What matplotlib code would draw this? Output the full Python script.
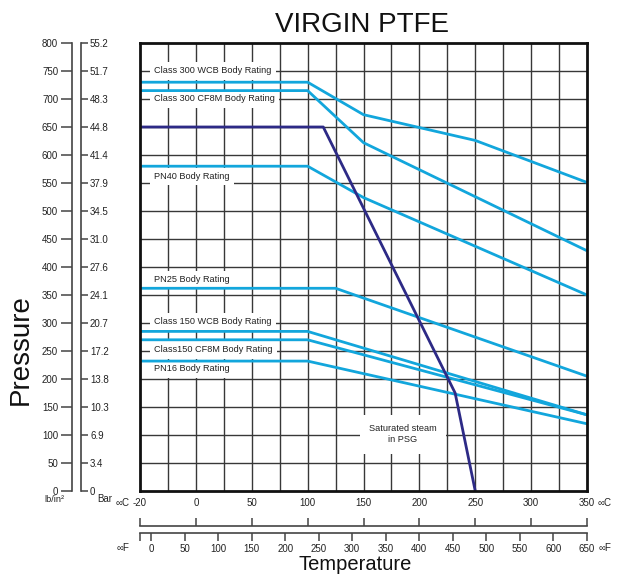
import numpy as np
import matplotlib
matplotlib.use("Agg")
import matplotlib.pyplot as plt

plt.rcParams['font.family'] = ['Liberation Sans', 'DejaVu Sans']

# ---------------- data (°C, psi) ----------------
class300_wcb_t = [-20, 100, 150, 250, 350]
class300_wcb_p = [730, 730, 672, 626, 551]
class300_cf8m_t = [-20, 100, 150, 350]
class300_cf8m_p = [715, 715, 622, 429]
pn40_t = [-20, 100, 150, 350]
pn40_p = [580, 580, 524, 350]
pn25_t = [-20, 125, 350]
pn25_p = [362, 362, 205]
class150_wcb_t = [-20, 100, 350]
class150_wcb_p = [285, 285, 136]
class150_cf8m_t = [-20, 100, 350]
class150_cf8m_p = [270, 270, 136]
pn16_t = [-20, 100, 350]
pn16_p = [232, 232, 120]
ptfe_t = [-20, 114, 232, 250]
ptfe_p = [650, 650, 175, 0]

psi_ticks = list(range(0, 801, 50))
bar_labels = ['0', '3.4', '6.9', '10.3', '13.8', '17.2', '20.7', '24.1', '27.6',
              '31.0', '34.5', '37.9', '41.4', '44.8', '48.3', '51.7', '55.2']
degc_ticks = [-20, 0, 50, 100, 150, 200, 250, 300, 350]
degf_ticks = [0, 50, 100, 150, 200, 250, 300, 350, 400, 450, 500, 550, 600, 650]
grid_t = [-10, 0, 25, 50, 75, 100, 125, 150, 175, 200, 225, 250, 275, 300, 325]
grid_p = list(range(50, 800, 50))

labels = [
    ("Class 300 WCB Body Rating", 750),
    ("Class 300 CF8M Body Rating", 700),
    ("PN40 Body Rating", 561),
    ("PN25 Body Rating", 378),
    ("Class 150 WCB Body Rating", 302),
    ("Class150 CF8M Body Rating", 252),
    ("PN16 Body Rating", 218),
]

W, H = 621, 574
fig = plt.figure(figsize=(W / 100, H / 100), dpi=100)


def box(x0, y0, x1, y1):
    return [x0 / W, 1 - y1 / H, (x1 - x0) / W, (y1 - y0) / H]


def fwd(t):
    t = np.asarray(t, dtype=float)
    return np.where(t < 0, 2.5 * t, t)


def inv(u):
    u = np.asarray(u, dtype=float)
    return np.where(u < 0, u / 2.5, u)


LIGHT = '#12a6dc'
DARK = '#2d2a86'
GRIDC = '#383838'
AXC = '#444444'
TXT = '#222222'
TS = 7

# ---------------- main axes ----------------
ax = fig.add_axes(box(140, 43, 587, 491))
ax.set_xscale('function', functions=(fwd, inv))
ax.set_xlim(-20, 350)
ax.set_ylim(0, 800)
ax.set_xticks(grid_t)
ax.set_yticks(grid_p)
ax.tick_params(length=0, labelbottom=False, labelleft=False)
ax.set_axisbelow(True)
ax.grid(True, color=GRIDC, lw=1.0)
for s in ax.spines.values():
    s.set_linewidth(2.0)
    s.set_color('#111111')
    s.set_zorder(6)

lw = 2.0
for t, p in [(class300_wcb_t, class300_wcb_p), (class300_cf8m_t, class300_cf8m_p),
             (pn40_t, pn40_p), (pn25_t, pn25_p), (class150_wcb_t, class150_wcb_p),
             (class150_cf8m_t, class150_cf8m_p), (pn16_t, pn16_p)]:
    ax.plot(t, p, color=LIGHT, lw=lw, zorder=4, solid_capstyle='butt')
ax.plot(ptfe_t, ptfe_p, color=DARK, lw=lw, zorder=5, solid_capstyle='butt')

for txt, yv in labels:
    ax.text(0.032, yv, txt, transform=ax.get_yaxis_transform(), fontsize=6.6,
            va='center', ha='left', color=TXT, zorder=3,
            bbox=dict(boxstyle='square,pad=0.45', fc='white', ec='none'))
ax.text(185, 101, "Saturated steam\nin PSG", fontsize=6.6, ha='center', va='center',
        color=TXT, zorder=3, linespacing=1.3,
        bbox=dict(boxstyle='square,pad=1.0', fc='white', ec='none'))

# ---------------- psi axis ----------------
ap = fig.add_axes(box(72, 43, 72.5, 491))
ap.set_ylim(0, 800)
ap.set_xticks([])
ap.set_yticks(psi_ticks)
ap.set_yticklabels([str(v) for v in psi_ticks])
ap.patch.set_visible(False)
for k in ['right', 'top', 'bottom']:
    ap.spines[k].set_visible(False)
ap.spines['left'].set_color(AXC)
ap.spines['left'].set_linewidth(1.2)
ap.tick_params(axis='y', direction='out', length=8, width=1.1, color=AXC,
               labelsize=TS, pad=2, labelcolor=TXT)

# ---------------- bar axis ----------------
ab = fig.add_axes(box(80.5, 43, 81, 491))
ab.set_ylim(0, 800)
ab.set_xticks([])
ab.yaxis.tick_right()
ab.set_yticks(psi_ticks)
ab.set_yticklabels(bar_labels)
ab.patch.set_visible(False)
for k in ['left', 'top', 'bottom']:
    ab.spines[k].set_visible(False)
ab.spines['right'].set_color(AXC)
ab.spines['right'].set_linewidth(1.2)
ab.tick_params(axis='y', direction='out', length=5, width=1.1, color=AXC,
               labelsize=TS, pad=1.5, labelcolor=TXT)

fig.text(54 / W, 1 - 500 / H, "lb/in²", fontsize=6.6, ha='center', va='center', color=TXT)
fig.text(105 / W, 1 - 499 / H, "Bar", fontsize=TS, ha='center', va='center', color=TXT)

# ---------------- °C axis ----------------
ac = fig.add_axes(box(140, 526, 587, 530))
ac.set_xscale('function', functions=(fwd, inv))
ac.set_xlim(-20, 350)
ac.set_yticks([])
ac.xaxis.tick_top()
ac.set_xticks(degc_ticks)
ac.set_xticklabels([str(v) for v in degc_ticks])
ac.patch.set_visible(False)
for k in ['left', 'right', 'bottom']:
    ac.spines[k].set_visible(False)
ac.spines['top'].set_color(AXC)
ac.spines['top'].set_linewidth(1.2)
ac.tick_params(axis='x', direction='out', length=6, width=1.1, color=AXC,
               labelsize=TS, pad=7, labelcolor=TXT)

# ---------------- °F axis ----------------
af = fig.add_axes(box(140, 529, 587, 533))
f_left = -11 * 650 / 436
af.set_xlim(f_left, 650)
af.set_yticks([])
af.set_xticks([f_left] + degf_ticks)
af.set_xticklabels([''] + [str(v) for v in degf_ticks])
af.patch.set_visible(False)
for k in ['left', 'right', 'top']:
    af.spines[k].set_visible(False)
af.spines['bottom'].set_color(AXC)
af.spines['bottom'].set_linewidth(1.2)
af.tick_params(axis='x', direction='out', length=6, width=1.1, color=AXC,
               labelsize=TS, pad=2, labelcolor=TXT)

fig.text(123 / W, 1 - 503 / H, "∞C", fontsize=TS, ha='center', va='center', color=TXT)
fig.text(605 / W, 1 - 503 / H, "∞C", fontsize=TS, ha='center', va='center', color=TXT)
fig.text(123 / W, 1 - 548 / H, "∞F", fontsize=TS, ha='center', va='center', color=TXT)
fig.text(605 / W, 1 - 548 / H, "∞F", fontsize=TS, ha='center', va='center', color=TXT)

# ---------------- titles ----------------
fig.text(362 / W, 1 - 32.5 / H, "VIRGIN PTFE", fontsize=20, ha='center', va='baseline', color='#111111')
fig.text(21 / W, 1 - 350 / H, "Pressure", fontsize=20, rotation=90, ha='center', va='center', color='#111111')
fig.text(355 / W, 1 - 569.5 / H, "Temperature", fontsize=14.5, ha='center', va='baseline', color='#111111')

fig.savefig("out.png", dpi=100)
